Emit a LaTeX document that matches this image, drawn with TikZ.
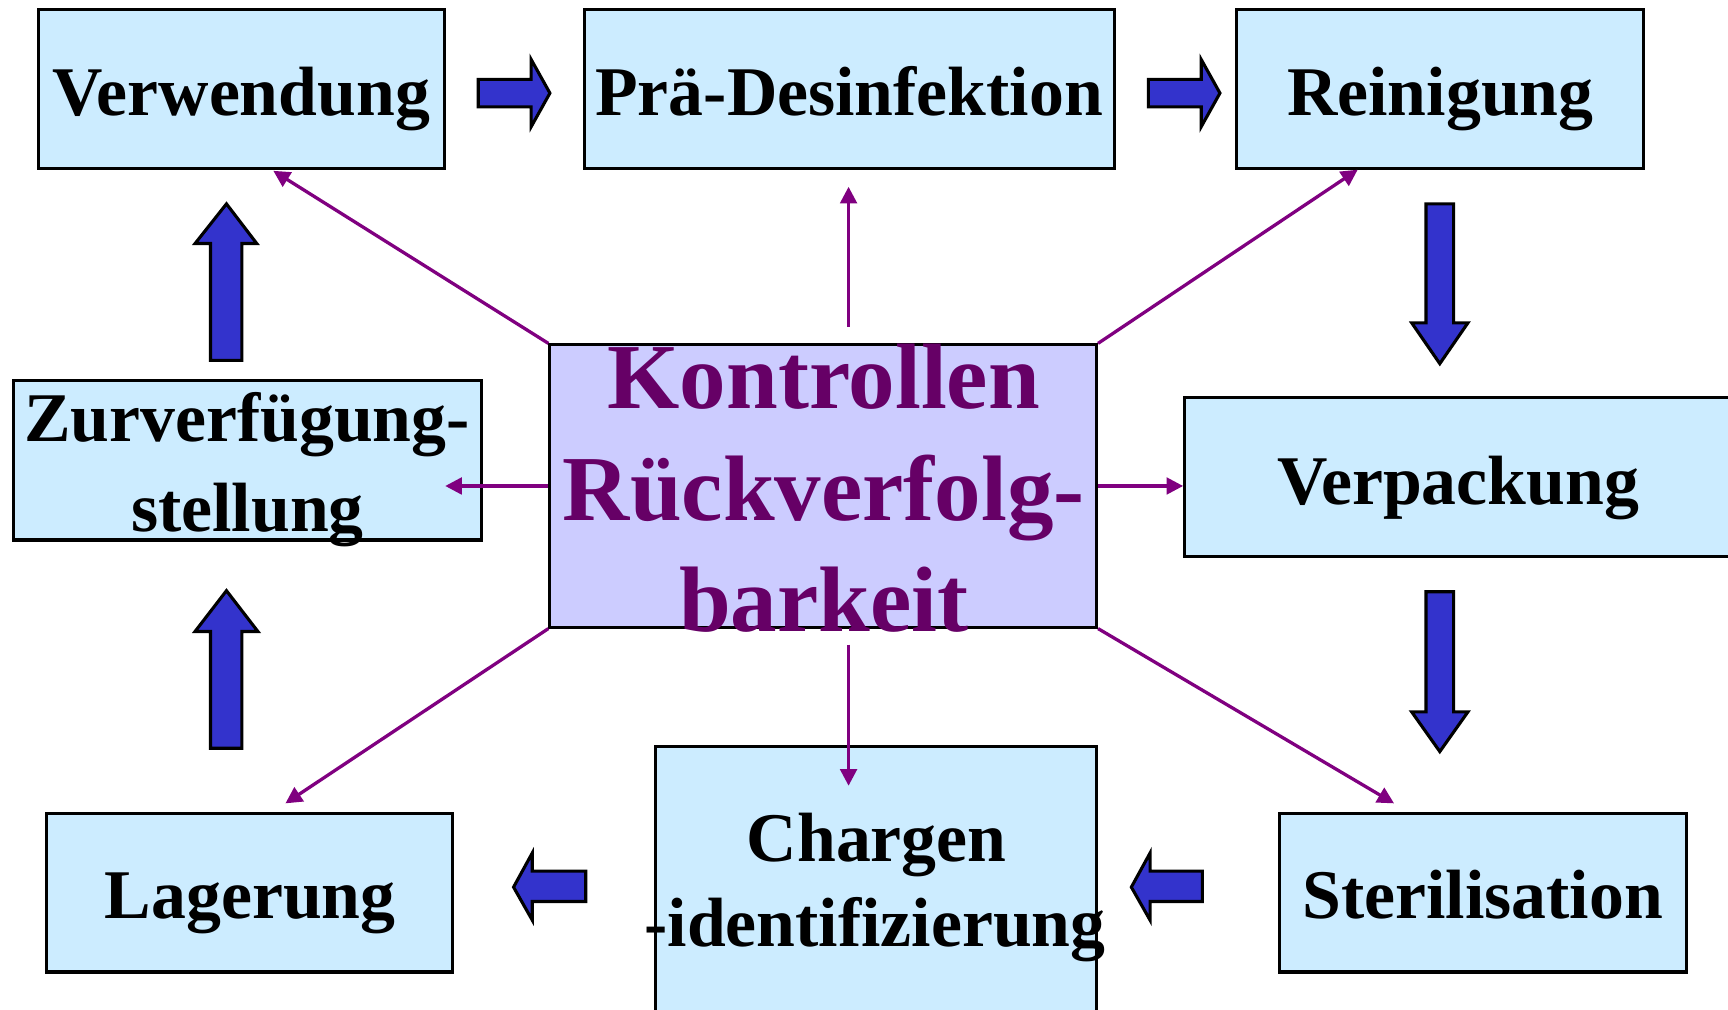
\documentclass[tikz,border=0pt]{standalone}
\usepackage{fontspec}
\setmainfont{Liberation Serif}
\usetikzlibrary{fit,arrows.meta}
\definecolor{boxblue}{HTML}{CCECFF}
\definecolor{ctrfill}{HTML}{CCCCFF}
\definecolor{blkblue}{HTML}{3333CC}
\definecolor{purp}{HTML}{800080}
\definecolor{ctrtext}{HTML}{660066}
\begin{document}
\begin{tikzpicture}[x=0.01cm,y=-0.01cm,
  bx/.style={draw=black, line width=0.8pt, fill=boxblue, inner sep=0pt},
  lbl/.style={font=\fontsize{18}{22}\selectfont\bfseries, inner sep=0pt, anchor=base},
  ctrlbl/.style={font=\fontsize{24}{28}\selectfont\bfseries, text=ctrtext, inner sep=0pt, anchor=base},
  blockarrow/.style={draw=black, line width=0.8pt, fill=blkblue, line join=miter},
  link/.style={draw=purp, line width=0.85pt, -{Triangle[length=0.15cm,width=0.15cm]}}]
\useasboundingbox (0,0) rectangle (1568,916);
\clip (0,0) rectangle (1568,916);
\fill[white] (0,0) rectangle (1568,916);

% boxes
\node[bx, fit={(35,9) (403,153)}] (verw) {};
\node[bx, fit={(530,9) (1011,153)}] (prae) {};
\node[bx, fit={(1122,9) (1491,153)}] (rein) {};
\node[bx, fit={(12.5,345) (437,490)}] (zur) {};
\node[bx, fit={(499,313) (995,569)}, fill=ctrfill] (ctr) {};
\node[bx, fit={(1075,361) (1571,505)}] (verp) {};
\node[bx, fit={(42,738) (411,882)}] (lag) {};
\node[bx, fit={(595,677) (995,930)}] (charg) {};
\node[bx, fit={(1161,738) (1530,882)}] (ster) {};

% labels
\node[lbl] (verwT) at (219,104.5) {Verwendung};
\node[lbl] (praeT) at (770.5,104.5) {Prä-Desinfektion};
\node[lbl] (reinT) at (1307,104.5) {Reinigung};
\node[lbl] (zurT1) at (224,401) {Zurverfügung-};
\node[lbl] (zurT2) at (224.5,482.5) {stellung};
\node[lbl] (verpT) at (1323,458) {Verpackung};
\node[lbl] (lagT) at (227,833.3) {Lagerung};
\node[lbl] (chT1) at (795.5,782) {Chargen};
\node[lbl] (chT2) at (794,859) {-identifizierung};
\node[lbl] (sterT) at (1345.5,833.3) {Sterilisation};
\node[ctrlbl] (ctrT1) at (747.5,370.5) {Kontrollen};
\node[ctrlbl] (ctrT2) at (747.5,472) {Rückverfolg-};
\node[ctrlbl] (ctrT3) at (747.5,573) {barkeit};

% blue block arrows
\draw[blockarrow] (434,72) -- (482,72) -- (482,54) -- (499,84.5) -- (482,115) -- (482,97) -- (434,97) -- cycle;
\draw[blockarrow] (1042,72) -- (1090,72) -- (1090,54) -- (1107,84.5) -- (1090,115) -- (1090,97) -- (1042,97) -- cycle;
\draw[blockarrow] (1294,185) -- (1319,185) -- (1319,293) -- (1332,293) -- (1306.5,330) -- (1281,293) -- (1294,293) -- cycle;
\draw[blockarrow] (1294,537) -- (1319,537) -- (1319,646) -- (1332,646) -- (1306.5,682) -- (1281,646) -- (1294,646) -- cycle;
\draw[blockarrow] (1091,790.5) -- (1043.6,790.5) -- (1043.6,774) -- (1026.6,805) -- (1043.6,835) -- (1043.6,818) -- (1091,818) -- cycle;
\draw[blockarrow] (531.5,790.5) -- (483,790.5) -- (483,774) -- (466,805) -- (483,835) -- (483,818) -- (531.5,818) -- cycle;
\draw[blockarrow] (191,679) -- (219.5,679) -- (219.5,573) -- (234,573) -- (205.5,536) -- (177,573) -- (191,573) -- cycle;
\draw[blockarrow] (191,327) -- (219.5,327) -- (219.5,221) -- (233,221) -- (205.5,185) -- (177,221) -- (191,221) -- cycle;

% purple links
\coordinate (tVerw) at (248,155);
\coordinate (tPraeS) at (770,296.5);
\coordinate (tPraeE) at (770,169.5);
\coordinate (tRein) at (1232,154);
\coordinate (tZur) at (404,441);
\coordinate (tLag) at (259,729);
\coordinate (tChS) at (770,585);
\coordinate (tChE) at (770,713);
\coordinate (tSter) at (1265,729);
\draw[link] (ctr.north west) -- (tVerw);
\draw[link] (tPraeS) -- (tPraeE);
\draw[link] (ctr.north east) -- (tRein);
\draw[link] (ctr.west) -- (tZur);
\draw[link] (ctr.east) -- (ctr.east -| verp.west);
\draw[link] (ctr.south west) -- (tLag);
\draw[link] (tChS) -- (tChE);
\draw[link] (ctr.south east) -- (tSter);
\end{tikzpicture}
\end{document}
